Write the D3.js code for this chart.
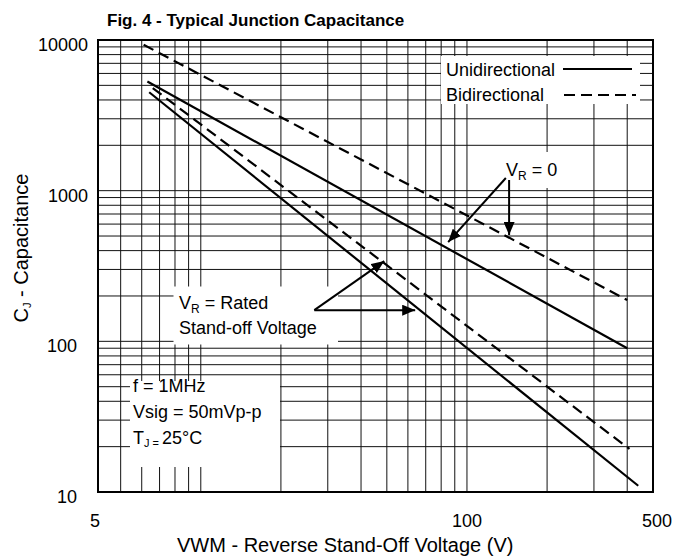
<!DOCTYPE html>
<html>
<head>
<meta charset="utf-8">
<script src="https://cdn.jsdelivr.net/npm/d3@7/dist/d3.min.js"></script>
<style>
  body { margin: 0; background: #fff; }
  text { font-family: "Liberation Sans", Arial, sans-serif; fill: #000; }
</style>
</head>
<body>
<div id="chart"></div>
<script>
'use strict';

// series: [voltage V, capacitance pF] at the two ends of each straight log-log line
var uniZero  = [[6.3, 5300], [400, 90]];
var uniRated = [[6.4, 4500], [440, 11]];
var biZero   = [[6.1, 9300], [400, 188]];
var biRated  = [[6.6, 4800], [408, 19.3]];

var seriesNames = ['Unidirectional', 'Bidirectional'];

var xTickValues = [5, 100, 500];
var xTickLabels = ['5', '100', '500'];
var yTickValues = [10, 100, 1000, 10000];
var yTickLabels = ['10', '100', '1000', '10000'];

// annotation arrows, [from, to] in data units
var arrowsZero  = [[[140, 1213], [85, 456]], [[144, 1177], [144, 508]]];
var arrowsRated = [[[26.7, 161], [48.9, 341]], [[26.7, 161], [63.9, 161]]];

(function() {
  var width = 673, height = 559;
  var pLeft = 98, pRight = 653, pTop = 40, pBottom = 492;

  var x = d3.scaleLog().domain([4.11, 500]).range([pLeft, pRight]);
  var y = d3.scaleLog().domain([10, 10000]).range([pBottom, pTop]);

  var svg = d3.select('#chart').append('svg')
    .attr('width', width)
    .attr('height', height);

  // grid
  var grid = svg.append('g').attr('stroke', '#111').attr('stroke-width', 1);
  grid.selectAll('line.v').data(x.ticks().filter(function(d) { return d >= 5 && d < 500; }))
    .enter().append('line')
      .attr('x1', function(d) { return x(d); })
      .attr('x2', function(d) { return x(d); })
      .attr('y1', pTop).attr('y2', pBottom);
  grid.selectAll('line.h').data(y.ticks().filter(function(d) { return d > 10 && d < 10000; }))
    .enter().append('line')
      .attr('y1', function(d) { return y(d); })
      .attr('y2', function(d) { return y(d); })
      .attr('x1', pLeft).attr('x2', pRight);

  // white label boxes over the grid
  var boxes = [[441, 56, 199, 48], [490, 152, 88, 36], [173.5, 286.5, 164.5, 58], [130, 381, 150, 86]];
  svg.selectAll('rect.box').data(boxes).enter().append('rect')
    .attr('x', function(d) { return d[0]; })
    .attr('y', function(d) { return d[1]; })
    .attr('width', function(d) { return d[2]; })
    .attr('height', function(d) { return d[3]; })
    .attr('fill', '#fff');

  // frame
  svg.append('rect')
    .attr('x', pLeft).attr('y', pTop)
    .attr('width', pRight - pLeft).attr('height', pBottom - pTop)
    .attr('fill', 'none').attr('stroke', '#000').attr('stroke-width', 2);

  // curves
  var line = d3.line()
    .x(function(d) { return x(d[0]); })
    .y(function(d) { return y(d[1]); });

  var curves = [
    {pts: uniZero, dash: null},
    {pts: uniRated, dash: null},
    {pts: biZero, dash: '11,6'},
    {pts: biRated, dash: '11,6'}
  ];
  svg.selectAll('path.curve').data(curves).enter().append('path')
    .attr('d', function(d) { return line(d.pts); })
    .attr('fill', 'none')
    .attr('stroke', '#000')
    .attr('stroke-width', 2.2)
    .attr('stroke-dasharray', function(d) { return d.dash; });

  // arrows
  svg.append('defs').append('marker')
    .attr('id', 'head')
    .attr('markerUnits', 'userSpaceOnUse')
    .attr('markerWidth', 13).attr('markerHeight', 11)
    .attr('refX', 13).attr('refY', 5.5)
    .attr('orient', 'auto')
    .append('path').attr('d', 'M0,0L13,5.5L0,11Z').attr('fill', '#000');

  svg.selectAll('line.arrow').data(arrowsZero.concat(arrowsRated)).enter().append('line')
    .attr('x1', function(d) { return x(d[0][0]); })
    .attr('y1', function(d) { return y(d[0][1]); })
    .attr('x2', function(d) { return x(d[1][0]); })
    .attr('y2', function(d) { return y(d[1][1]); })
    .attr('stroke', '#000').attr('stroke-width', 2)
    .attr('marker-end', 'url(#head)');

  // legend
  var legend = svg.append('g').attr('font-size', 18);
  legend.append('text').attr('x', 446).attr('y', 76).text(seriesNames[0]);
  legend.append('text').attr('x', 446).attr('y', 101).text(seriesNames[1]);
  legend.append('line').attr('x1', 563).attr('x2', 632).attr('y1', 69).attr('y2', 69)
    .attr('stroke', '#000').attr('stroke-width', 2.2);
  legend.append('line').attr('x1', 564).attr('x2', 636).attr('y1', 95).attr('y2', 95)
    .attr('stroke', '#000').attr('stroke-width', 2.2).attr('stroke-dasharray', '11,6');

  // annotation texts
  function vr(g, px, py, rest) {
    var t = g.append('text').attr('x', px).attr('y', py).attr('font-size', 18);
    t.append('tspan').text('V');
    t.append('tspan').attr('font-size', 12).attr('dy', 4).text('R');
    t.append('tspan').attr('dy', -4).text(rest);
  }
  vr(svg, 506, 176, ' = 0');
  vr(svg, 179, 309, ' = Rated');
  svg.append('text').attr('x', 179).attr('y', 334).attr('font-size', 18).text('Stand-off Voltage');

  var cond = svg.append('g').attr('font-size', 18);
  cond.append('text').attr('x', 133).attr('y', 392).text('f = 1MHz');
  cond.append('text').attr('x', 133).attr('y', 418).text('Vsig = 50mVp-p');
  var tj = cond.append('text').attr('x', 133).attr('y', 444);
  tj.append('tspan').text('T');
  tj.append('tspan').attr('font-size', 11).attr('dy', 3).text('J = ');
  tj.append('tspan').attr('dy', -3).text('25°C');

  // tick labels
  svg.selectAll('text.xt').data(xTickValues).enter().append('text')
    .attr('x', function(d, i) {
      var px = x(d);
      if (i === 0) px = pLeft - 3;
      if (i === xTickValues.length - 1) px += 4;
      return px;
    })
    .attr('y', 527)
    .attr('text-anchor', 'middle')
    .attr('font-size', 18)
    .text(function(d, i) { return xTickLabels[i]; });

  svg.selectAll('text.yt').data(yTickValues).enter().append('text')
    .attr('x', function(d) { return d >= 1000 ? 88 : 77; })
    .attr('y', function(d) { return y(d) + 11; })
    .attr('text-anchor', 'end')
    .attr('font-size', 18)
    .text(function(d, i) { return yTickLabels[i]; });

  // titles
  svg.append('text').attr('x', 107).attr('y', 26)
    .attr('font-size', 17).attr('font-weight', 'bold')
    .text('Fig. 4 - Typical Junction Capacitance');

  svg.append('text').attr('x', 177).attr('y', 552)
    .attr('font-size', 20)
    .text('VWM - Reverse Stand-Off Voltage (V)');

  var yt = svg.append('text')
    .attr('transform', 'translate(28,248) rotate(-90)')
    .attr('text-anchor', 'middle')
    .attr('font-size', 20);
  yt.append('tspan').text('C');
  yt.append('tspan').attr('font-size', 11).attr('dy', 3).text('J');
  yt.append('tspan').attr('dy', -3).text(' - Capacitance');
})();
</script>
</body>
</html>
